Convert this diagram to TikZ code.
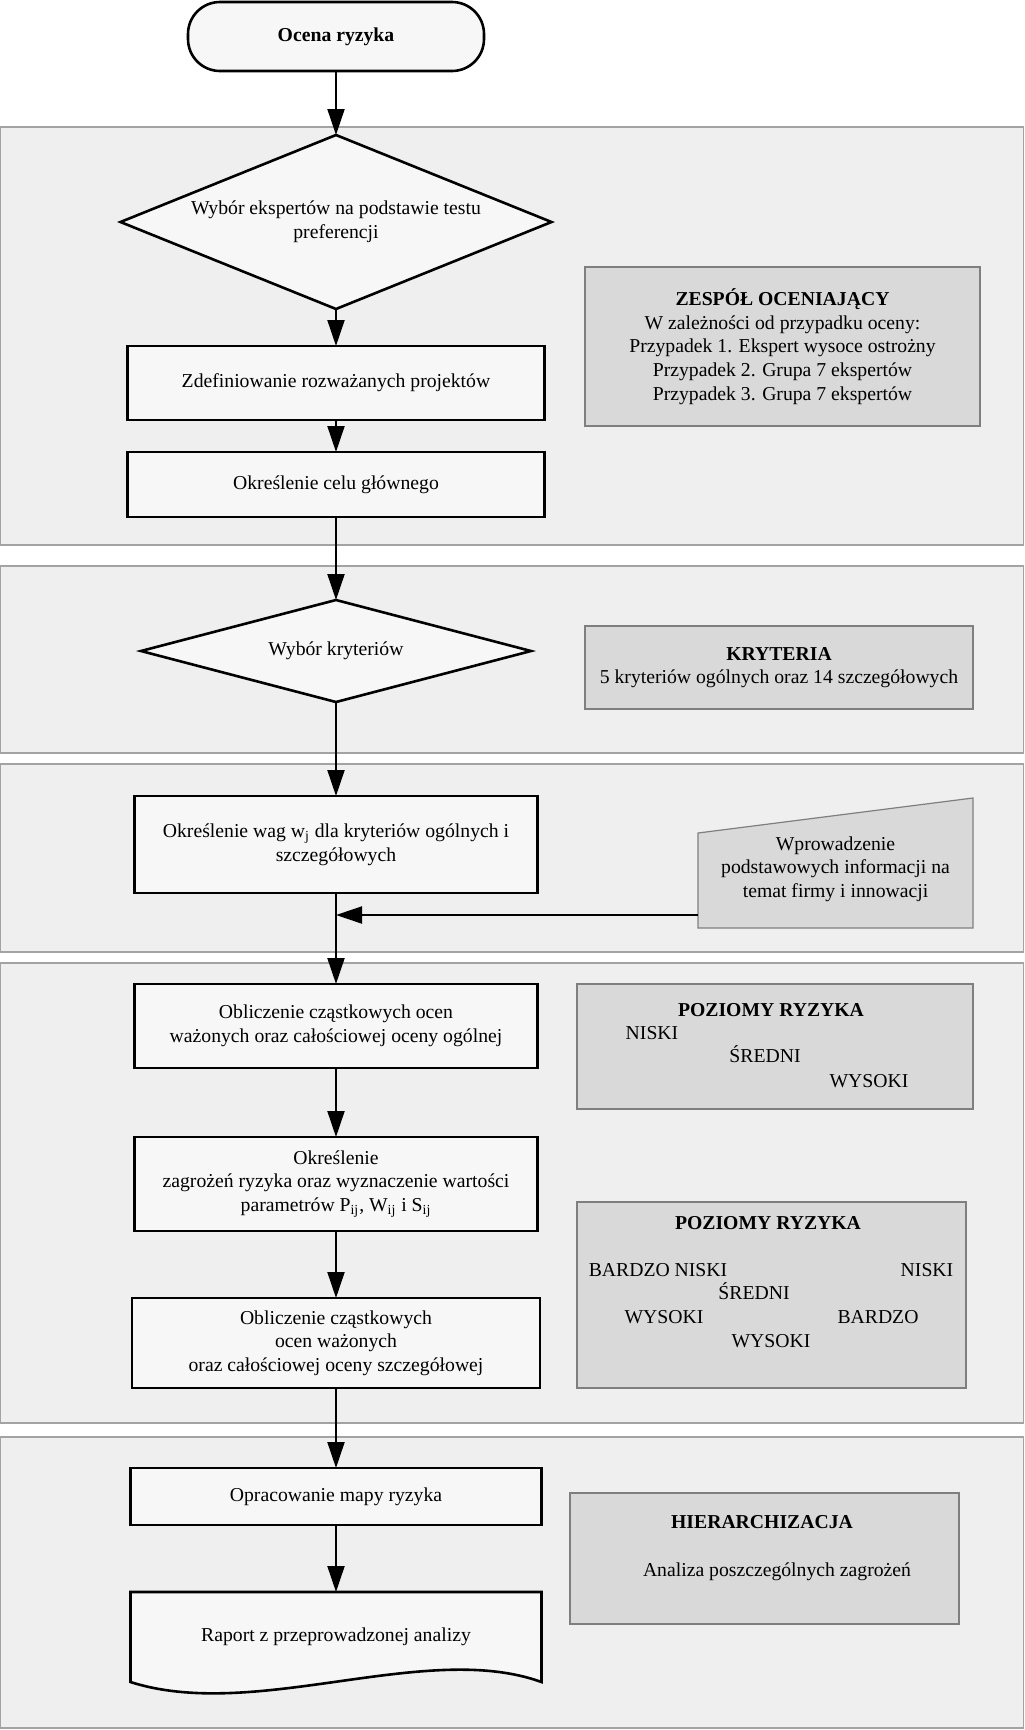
\documentclass[tikz,border=0pt]{standalone}
\usepackage{fontspec}
\setmainfont{Liberation Serif}
\usepackage{tikz}
\usetikzlibrary{arrows.meta,positioning,calc,shapes.geometric,backgrounds}
\definecolor{panel}{HTML}{EFEFEF}
\definecolor{paper}{HTML}{F7F7F7}
\definecolor{stone}{HTML}{D9D9D9}
\definecolor{rim}{HTML}{A3A3A3}
\definecolor{slate}{HTML}{7F7F7F}
\tikzset{box/.style={draw=black,line width=1.3pt,fill=paper,align=center,font=\fontsize{9.85pt}{11.8pt}\selectfont,inner sep=2pt,outer sep=0pt},decbox/.style={box,diamond,shape aspect=2.5,inner sep=1pt},term/.style={box,rounded corners=16pt},info/.style={draw=slate,line width=0.6pt,fill=stone,align=center,font=\fontsize{9.85pt}{11.8pt}\selectfont},shell/.style={align=center,font=\fontsize{9.85pt}{11.8pt}\selectfont,inner sep=0pt,outer sep=0pt},lbl/.style={font=\fontsize{9.85pt}{11.8pt}\selectfont,inner sep=0pt,text height=7pt,text depth=2pt},arr/.style={-{Triangle[length=13pt,width=8.5pt]},line width=1pt},sekcja/.style={fill=panel,draw=rim,line width=0.8pt}}

\begin{document}
\begin{tikzpicture}[x=0.5pt,y=-0.5pt]
\useasboundingbox (0,0) rectangle (1024,1730);
\node[term,minimum width=148pt,minimum height=34.5pt] (start) at (336,36.5) {\textbf{Ocena ryzyka}};
\node[decbox,minimum width=215.5pt,minimum height=87pt,below=32pt of start] (eksperci) {Wybór ekspertów na podstawie testu\\preferencji};
\node[box,minimum width=208.5pt,minimum height=37pt,below=18.5pt of eksperci] (projekty) {Zdefiniowanie rozważanych projektów};
\node[box,minimum width=208.5pt,minimum height=32.5pt,below=16pt of projekty] (cel) {Określenie celu głównego};
\node[decbox,minimum width=195pt,minimum height=51pt,below=41.5pt of cel] (kryteria) {Wybór kryteriów};
\node[box,minimum width=201.5pt,minimum height=48.5pt,below=47pt of kryteria] (wagi) {Określenie wag w\textsubscript{j} dla kryteriów ogólnych i\\szczegółowych};
\node[box,minimum width=201.5pt,minimum height=42pt,below=45.5pt of wagi] (ogolne) {Obliczenie cząstkowych ocen\\ważonych oraz całościowej oceny ogólnej};
\node[box,minimum width=201.5pt,minimum height=47pt,below=34.5pt of ogolne] (zagrozenia) {Określenie\\zagrożeń ryzyka oraz wyznaczenie wartości\\parametrów P\textsubscript{ij}, W\textsubscript{ij} i S\textsubscript{ij}};
\node[box,minimum width=204pt,minimum height=45pt,below=33.5pt of zagrozenia] (szczegolowe) {Obliczenie cząstkowych\\ocen ważonych\\oraz całościowej oceny szczegółowej};
\node[box,minimum width=205.5pt,minimum height=28.5pt,below=40pt of szczegolowe] (mapa) {Opracowanie mapy ryzyka};
\node[shell,minimum width=205.5pt,minimum height=45pt,below=33.5pt of mapa] (raport) {Raport z przeprowadzonej analizy};
\node[info,minimum width=197.5pt,minimum height=79.5pt] (zespol) at (782.5,346.5) {\textbf{ZESPÓŁ OCENIAJĄCY}\\W zależności od przypadku oceny:\\Przypadek 1. Ekspert wysoce ostrożny\\Przypadek 2. Grupa 7 ekspertów\\Przypadek 3. Grupa 7 ekspertów};
\node[info,minimum width=194pt,minimum height=41.5pt] (kryt) at (779,667.5) {\textbf{KRYTERIA}\\5 kryteriów ogólnych oraz 14 szczegółowych};
\node[shell,minimum width=137.5pt,minimum height=59pt] (wprow) at (835.5,869) {Wprowadzenie\\podstawowych informacji na\\temat firmy i innowacji};
\node[info,minimum width=198pt,minimum height=62.5pt] (poziomy) at (775,1046.5) {};
\node[info,minimum width=194.5pt,minimum height=93pt] (poziomy2) at (771.5,1295) {};
\node[info,minimum width=194.5pt,minimum height=65.5pt] (hier) at (764.5,1558.5) {};
\node[lbl] (p1tyt) at (771,1011) {\textbf{POZIOMY RYZYKA}};
\node[lbl] (p1a) at (652,1034) {NISKI};
\node[lbl] (p1b) at (765,1057) {ŚREDNI};
\node[lbl] (p1c) at (869,1082) {WYSOKI};
\node[lbl] (p2tyt) at (768,1224) {\textbf{POZIOMY RYZYKA}};
\node[lbl] (p2a) at (658,1271) {BARDZO NISKI};
\node[lbl] (p2b) at (927,1271) {NISKI};
\node[lbl] (p2c) at (754,1294) {ŚREDNI};
\node[lbl] (p2d) at (664,1318) {WYSOKI};
\node[lbl] (p2e) at (878,1318) {BARDZO};
\node[lbl] (p2f) at (771,1342) {WYSOKI};
\node[lbl] (htyt) at (762,1523) {\textbf{HIERARCHIZACJA}};
\node[lbl] (htxt) at (777,1571) {Analiza poszczególnych zagrożeń};
\coordinate (wejscie) at ($(wprow.south west)+(0,-13)$);
\coordinate (zbieg) at (wagi.south |- wejscie);
\draw[arr] (start.south)--(eksperci.north);\draw[arr] (eksperci.south)--(projekty.north);\draw[arr] (projekty.south)--(cel.north);
\draw[arr] (cel.south)--(kryteria.north);\draw[arr] (kryteria.south)--(wagi.north);\draw[arr] (wagi.south)--(ogolne.north);
\draw[arr] (wejscie)--(zbieg);
\draw[arr] (ogolne.south)--(zagrozenia.north);\draw[arr] (zagrozenia.south)--(szczegolowe.north);
\draw[arr] (szczegolowe.south)--(mapa.north);\draw[arr] (mapa.south)--(raport.north);
\begin{scope}[on background layer]
\draw[sekcja] (0.5,127) rectangle (1023.5,545);
\draw[sekcja] (0.5,566) rectangle (1023.5,753);
\draw[sekcja] (0.5,764) rectangle (1023.5,952);
\draw[sekcja] (0.5,963) rectangle (1023.5,1423);
\draw[sekcja] (0.5,1437) rectangle (1023.5,1728);
\draw[info] (wprow.south west)--(wprow.south east)--($(wprow.north east)+(0,-12)$)--($(wprow.north west)+(0,23)$)--cycle;
\draw[box] (raport.north west)--(raport.north east)--(raport.south east) .. controls ($(raport.south east)+(-116,-42)$) and ($(raport.south west)+(125,40)$) .. (raport.south west)--cycle;
\end{scope}
\end{tikzpicture}
\end{document}
